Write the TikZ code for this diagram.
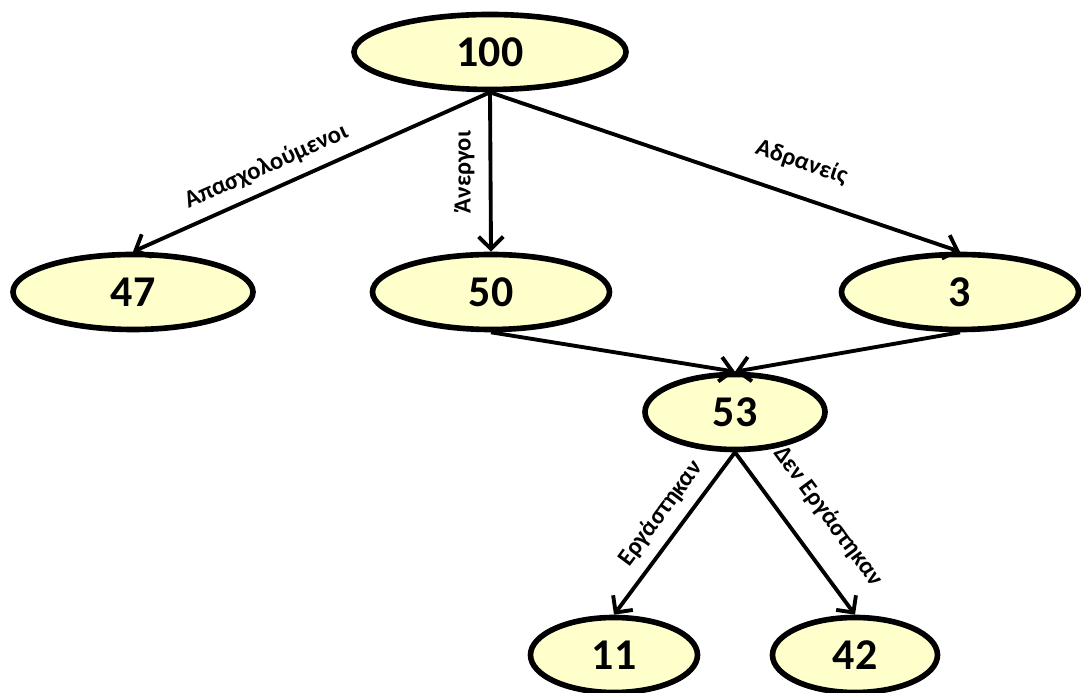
\documentclass[tikz,border=0pt]{standalone}
\usepackage{fontspec}
\setmainfont{Carlito}
\usetikzlibrary{arrows.meta,shapes.geometric}
\definecolor{paleyellow}{HTML}{FFFFCC}

\begin{document}
\begin{tikzpicture}[
    >={Straight Barb[length=7pt,width=14pt]},
    countnode/.style={
      ellipse, draw=black, line width=3.2pt, fill=paleyellow,
      font=\fontsize{25}{30}\selectfont\bfseries,
      minimum height=1.5cm, minimum width=#1, inner sep=0pt,
    },
    arr/.style={->, line width=2.2pt},
    lbl/.style={font=\fontsize{14}{16}\selectfont\bfseries, inner sep=2pt},
  ]
  \useasboundingbox (0,0) rectangle (21.62,13.86);

  % =================== NODES ===================
  \node[countnode=5.44cm] (n100) at (9.8, 12.82) {100};

  \node[countnode=4.8cm]  (n47) at (2.66, 8.02) {47};
  \node[countnode=4.74cm] (n50) at (9.82, 8.02) {50};
  \node[countnode=4.74cm] (n3)  at (19.2, 8.02) {3};

  \node[countnode=3.6cm]  (n53) at (14.7, 5.62) {53};

  \node[countnode=3.34cm] (n11) at (12.28, 0.76) {11};
  \node[countnode=3.3cm]  (n42) at (17.1, 0.76) {42};

  % =================== ARROWS ===================
  \draw[arr] (n100.south) -- (n47.north)
    node[lbl, sloped, above=4pt, pos=0.6] {Απασχολούμενοι};
  \draw[arr] (n100.south) -- (n50.north)
    node[lbl, midway, anchor=south, rotate=90, yshift=6pt] {Άνεργοι};
  \draw[arr] (n100.south) -- (n3.north)
    node[lbl, sloped, above=10pt, pos=0.64] {Αδρανείς};

  \draw[arr] (n50.south) -- (n53.north);
  \draw[arr] (n3.south) -- (n53.north);

  \draw[arr] (n53.south) -- (n11.north)
    node[lbl, sloped, above=4pt, pos=0.46] {Εργάστηκαν};
  \draw[arr] (n53.south) -- (n42.north)
    node[lbl, sloped, above=12pt, pos=0.53] {Δεν Εργάστηκαν};

\end{tikzpicture}
\end{document}
